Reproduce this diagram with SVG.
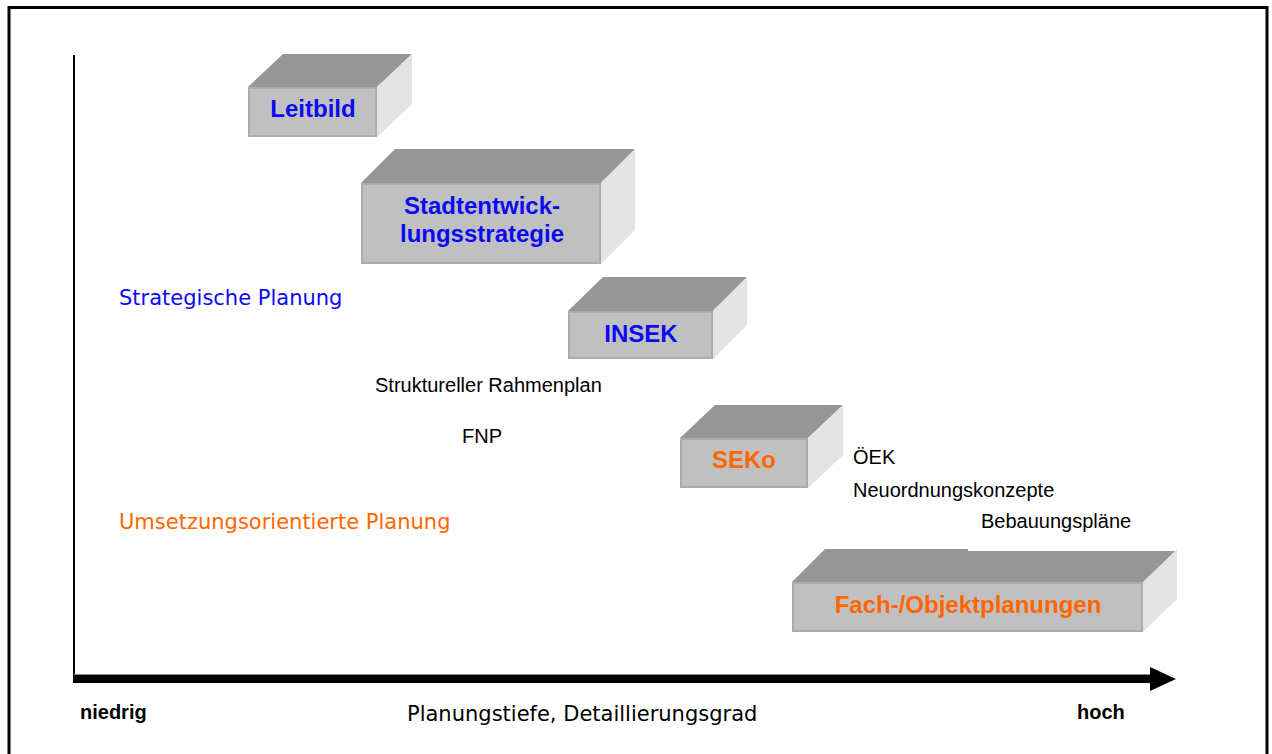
<svg xmlns="http://www.w3.org/2000/svg" width="1272" height="754" viewBox="0 0 1272 754">
  <defs>
    <style>
      .top { fill: #969696; }
      .front { fill: #c0c0c0; stroke: #acacac; stroke-width: 2; }
      .side { fill: #e3e3e3; }
      .lbl { font-family: "Liberation Sans", Arial, sans-serif; font-weight: bold; font-size: 24px; text-anchor: middle; }
      .blue { fill: #0a0af5; }
      .orange { fill: #ff6600; }
      .note { font-family: "Liberation Sans", Arial, sans-serif; font-size: 20px; fill: #000; }
      .axis-txt { font-family: "DejaVu Sans", Verdana, sans-serif; font-size: 21px; }
      .axis-end { font-family: "Liberation Sans", Arial, sans-serif; font-weight: bold; font-size: 20px; fill: #000; }
    </style>
  </defs>

  <rect width="1272" height="754" fill="#ffffff"/>

  <!-- outer frame -->
  <rect x="9" y="7.5" width="1258" height="760" fill="none" stroke="#000" stroke-width="3"/>

  <!-- axes -->
  <g id="connectors">
    <line x1="74" y1="55" x2="74" y2="683" stroke="#000" stroke-width="2"/>
    <line x1="74" y1="674.5" x2="1150" y2="674.5" stroke="#8a8a8a" stroke-width="1"/>
    <line x1="73" y1="679" x2="1152" y2="679" stroke="#000" stroke-width="8"/>
    <polygon points="1150,667 1176,679 1150,691" fill="#000"/>
  </g>

  <!-- planning levels as blocks -->
  <g id="leitbild">
    <polygon class="top" points="248,87 283,54 412,54 377,87"/>
    <polygon class="side" points="377,87 412,54 412,104 377,137"/>
    <rect class="front" x="249" y="88" width="127" height="48"/>
    <text class="lbl blue" x="313" y="117">Leitbild</text>
  </g>

  <g id="stadtentwicklungsstrategie">
    <polygon class="top" points="361,183 395,149 635,149 601,183"/>
    <polygon class="side" points="601,183 635,149 635,230 601,264"/>
    <rect class="front" x="362" y="184" width="238" height="79"/>
    <text class="lbl blue" x="482" y="214">Stadtentwick-</text>
    <text class="lbl blue" x="482" y="242">lungsstrategie</text>
  </g>

  <g id="insek">
    <polygon class="top" points="568,311 603,277 747,277 713,311"/>
    <polygon class="side" points="713,311 747,277 747,325 713,359"/>
    <rect class="front" x="569" y="312" width="143" height="46"/>
    <text class="lbl blue" x="641" y="342">INSEK</text>
  </g>

  <g id="seko">
    <polygon class="top" points="680,438 715,405 843,405 808,438"/>
    <polygon class="side" points="808,438 843,405 843,455 808,488"/>
    <rect class="front" x="681" y="439" width="126" height="48"/>
    <text class="lbl orange" x="744" y="468">SEKo</text>
  </g>

  <g id="fachplanungen">
    <polygon class="top" points="792,582 825,549 968,549 968,551 1177,551 1143,582"/>
    <polygon class="side" points="1143,582 1177,549 1177,599 1143,632"/>
    <rect class="front" x="793" y="583" width="349" height="48"/>
    <text class="lbl orange" x="968" y="613">Fach-/Objektplanungen</text>
  </g>

  <!-- category labels -->
  <g id="kategorien">
    <text class="axis-txt blue" x="119" y="305">Strategische Planung</text>
    <text class="axis-txt orange" x="119" y="529">Umsetzungsorientierte Planung</text>
  </g>

  <!-- further instruments -->
  <g id="instrumente">
    <text class="note" x="375" y="392">Struktureller Rahmenplan</text>
    <text class="note" x="462" y="443">FNP</text>
    <text class="note" x="853" y="464">ÖEK</text>
    <text class="note" x="853" y="497">Neuordnungskonzepte</text>
    <text class="note" x="981" y="528">Bebauungspläne</text>
  </g>

  <!-- axis captions -->
  <g id="achse">
    <text class="axis-end" x="80" y="719">niedrig</text>
    <text class="axis-txt" x="407" y="721" fill="#000">Planungstiefe, Detaillierungsgrad</text>
    <text class="axis-end" x="1077" y="719">hoch</text>
  </g>
</svg>
